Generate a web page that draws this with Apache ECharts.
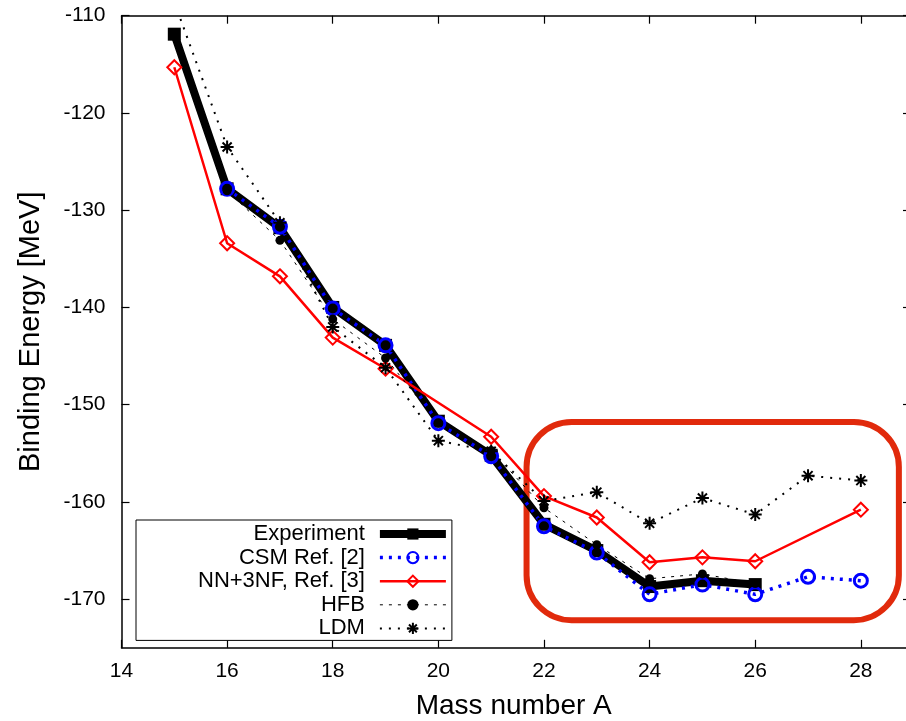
<!DOCTYPE html>
<html>
<head>
<meta charset="utf-8">
<script src="https://cdn.jsdelivr.net/npm/echarts@6/dist/echarts.min.js"></script>
<style>
  html, body { margin: 0; padding: 0; background: #fff; }
  #chart { width: 906px; height: 721px; }
</style>
</head>
<body>
<div id="chart"></div>
<script>
// Binding energies of the isotope chain, A = 15 ... 28 (MeV); null = not computed / not measured
const massNumbers = [15, 16, 17, 18, 19, 20, 21, 22, 23, 24, 25, 26, 27, 28];
const experiment = [-111.9, -127.8, -131.8, -140.0, -143.9, -151.7, -155.2, -162.3, -165.0, -168.7, -168.1, -168.5, null, null];
const csm        = [null, -127.8, -131.7, -140.1, -143.9, -151.9, -155.3, -162.5, -165.2, -169.5, -168.5, -169.5, -167.7, -168.1];
const nn3nf      = [-115.3, -133.4, -136.8, -143.1, -146.3, null, -153.3, -159.4, -161.6, -166.2, -165.7, -166.1, null, -160.8];
const hfb        = [null, -128.0, -133.1, -141.2, -145.2, -151.9, -154.7, -160.6, -164.4, -167.9, -167.4, -168.4, null, null];
const ldm        = [-108.6, -123.5, -131.3, -142.0, -146.2, -153.7, -154.8, -159.9, -159.0, -162.2, -159.6, -161.3, -157.3, -157.8];

const xTicks = [14, 16, 18, 20, 22, 24, 26, 28];
const yTicks = [-170, -160, -150, -140, -130, -120, -110];

// neutron-rich region highlighted by the rounded frame (data units)
const highlightX = [21.67, 28.72];
const highlightY = [-151.77, -172.16];

const FONT = '"Liberation Sans", Arial, Helvetica, sans-serif';

function pairs(values) {
  return massNumbers.map((a, i) => [a, values[i]]).filter(p => p[1] !== null);
}

const asterisk = 'path://M0,5L10,5M5,0L5,10M1.5,1.5L8.5,8.5M8.5,1.5L1.5,8.5';

const chart = echarts.init(document.getElementById('chart'), null, { renderer: 'canvas' });

const tickStyle = { show: true, inside: true, length: 8, lineStyle: { color: '#000', width: 1.2 } };
const lineStyleAxis = { show: true, lineStyle: { color: '#000', width: 1.5 } };

chart.setOption({
  backgroundColor: '#fff',
  animation: false,
  textStyle: { fontFamily: FONT },
  grid: { left: 121.5, top: 15.7, right: 0, bottom: 73.2, containLabel: false, outerBoundsMode: 'none' },
  xAxis: [
    {
      type: 'value', position: 'bottom', min: 14, max: 28.855,
      axisLine: lineStyleAxis,
      axisTick: Object.assign({}, tickStyle, { customValues: xTicks }),
      splitLine: { show: false },
      axisLabel: { customValues: xTicks, fontSize: 21, color: '#000', margin: 13, fontFamily: FONT },
      name: 'Mass number A', nameLocation: 'middle', nameGap: 44,
      nameTextStyle: { fontSize: 28, color: '#000', fontFamily: FONT }
    },
    {
      type: 'value', position: 'top', min: 14, max: 28.855,
      axisLine: lineStyleAxis,
      axisTick: Object.assign({}, tickStyle, { customValues: xTicks }),
      splitLine: { show: false },
      axisLabel: { show: false }
    }
  ],
  yAxis: [
    {
      type: 'value', position: 'left', min: -175, max: -110,
      axisLine: lineStyleAxis,
      axisTick: Object.assign({}, tickStyle, { customValues: yTicks }),
      splitLine: { show: false },
      axisLabel: { customValues: yTicks, fontSize: 21, color: '#000', margin: 16, fontFamily: FONT },
      name: 'Binding Energy [MeV]', nameLocation: 'middle', nameGap: 76, nameRotate: 90,
      nameTextStyle: { fontSize: 29, color: '#000', fontFamily: FONT }
    },
    {
      type: 'value', position: 'right', min: -175, max: -110,
      axisLine: { show: false },
      axisTick: { show: true, inside: true, length: 3, lineStyle: { color: '#000', width: 1.2 }, customValues: yTicks },
      splitLine: { show: false },
      axisLabel: { show: false }
    }
  ],
  legend: {
    orient: 'vertical', left: 136, top: 520, align: 'right',
    itemWidth: 66, itemHeight: 14, itemGap: 1.6,
    backgroundColor: '#fff', borderColor: '#000', borderWidth: 1,
    padding: [3, 2, 1, 62],
    lineStyle: { width: 'inherit', type: 'inherit' },
    textStyle: { fontSize: 22, color: '#000', fontFamily: FONT, padding: [0, 10, 0, 0] },
    data: ['Experiment', 'CSM Ref. [2]', 'NN+3NF, Ref. [3]', 'HFB', 'LDM']
  },
  series: [
    {
      name: 'Experiment', type: 'line', data: pairs(experiment),
      symbol: 'rect', symbolSize: 13,
      itemStyle: { color: '#000' },
      lineStyle: { color: '#000', width: 8 }
    },
    {
      name: 'CSM Ref. [2]', type: 'line', data: pairs(csm),
      symbol: 'circle', symbolSize: 13,
      itemStyle: { color: 'rgba(0,0,0,0)', borderColor: '#0000ff', borderWidth: 3 },
      lineStyle: { color: '#0000ff', width: 3.5, type: [3, 6] }
    },
    {
      name: 'NN+3NF, Ref. [3]', type: 'line', data: pairs(nn3nf), connectNulls: true,
      symbol: 'diamond', symbolSize: 14,
      itemStyle: { color: 'rgba(0,0,0,0)', borderColor: '#ff0000', borderWidth: 2 },
      lineStyle: { color: '#ff0000', width: 2.5 }
    },
    {
      name: 'HFB', type: 'line', data: pairs(hfb),
      symbol: 'circle', symbolSize: 9,
      itemStyle: { color: '#000' },
      lineStyle: { color: '#000', width: 1, type: [3, 6] }
    },
    {
      name: 'LDM', type: 'line', data: pairs(ldm),
      symbol: asterisk, symbolSize: 13,
      itemStyle: { color: 'rgba(0,0,0,0)', borderColor: '#000', borderWidth: 2 },
      lineStyle: { color: '#000', width: 2, type: [2, 7] }
    }
  ]
});

// rounded highlight frame around the heavy isotopes
const p1 = chart.convertToPixel({ xAxisIndex: 0, yAxisIndex: 0 }, [highlightX[0], highlightY[0]]);
const p2 = chart.convertToPixel({ xAxisIndex: 0, yAxisIndex: 0 }, [highlightX[1], highlightY[1]]);
chart.setOption({
  graphic: [{
    type: 'rect', z: 1,
    shape: { x: p1[0], y: p1[1], width: p2[0] - p1[0], height: p2[1] - p1[1], r: 45 },
    style: { fill: 'none', stroke: '#e12a0c', lineWidth: 6 }
  }]
});
</script>
</body>
</html>
